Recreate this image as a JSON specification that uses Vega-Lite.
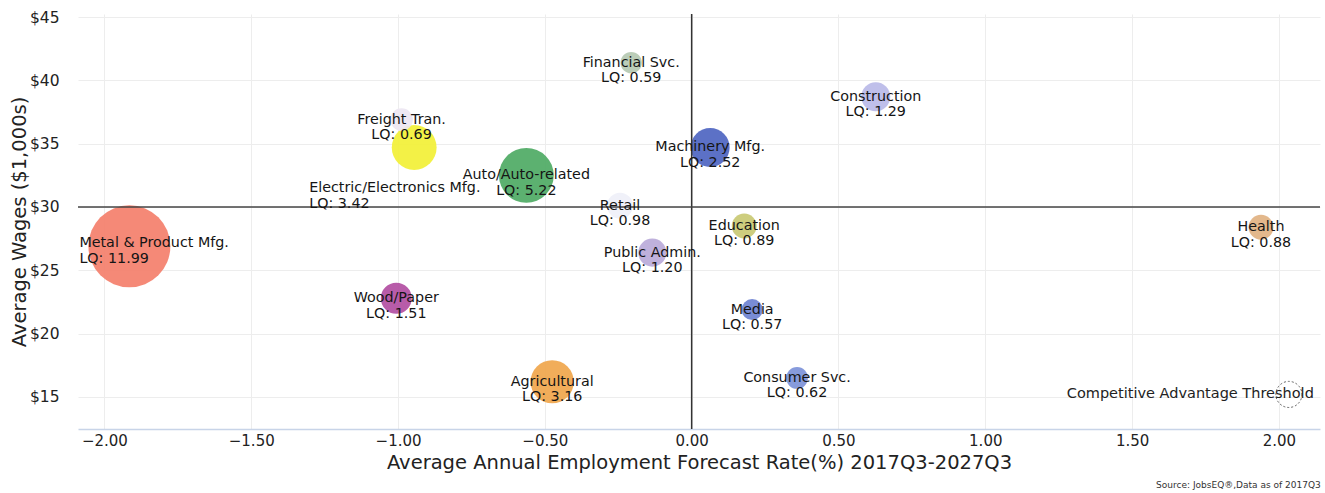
{
  "$schema": "https://vega.github.io/schema/vega-lite/v6.json",
  "autosize": "none",
  "width": 1242,
  "height": 415,
  "padding": {"left": 78, "top": 14, "right": 5, "bottom": 64},
  "config": {
    "view": {"stroke": null},
    "font": "DejaVu Sans",
    "axis": {"labelColor": "#222", "titleColor": "#222", "titleFontWeight": "normal", "labelFont": "DejaVu Sans", "titleFont": "DejaVu Sans"}
  },
  "title": {"text": "Source: JobsEQ®,Data as of 2017Q3", "orient": "bottom", "anchor": "end", "fontSize": 9, "fontWeight": "normal", "color": "#333", "offset": 9},
  "data": {
    "values": [
      {"Industry": "Metal & Product Mfg.", "Growth": -1.915, "Wages": 26.9, "LQ": 11.99},
      {"Industry": "Wood/Paper", "Growth": -1.006, "Wages": 22.8, "LQ": 1.51},
      {"Industry": "Freight Tran.", "Growth": -0.988, "Wages": 36.9, "LQ": 0.69},
      {"Industry": "Electric/Electronics Mfg.", "Growth": -0.945, "Wages": 34.7, "LQ": 3.42},
      {"Industry": "Auto/Auto-related", "Growth": -0.563, "Wages": 32.5, "LQ": 5.22},
      {"Industry": "Agricultural", "Growth": -0.475, "Wages": 16.2, "LQ": 3.16},
      {"Industry": "Retail", "Growth": -0.244, "Wages": 30.1, "LQ": 0.98},
      {"Industry": "Financial Svc.", "Growth": -0.206, "Wages": 41.4, "LQ": 0.59},
      {"Industry": "Public Admin.", "Growth": -0.134, "Wages": 26.4, "LQ": 1.2},
      {"Industry": "Machinery Mfg.", "Growth": 0.063, "Wages": 34.7, "LQ": 2.52},
      {"Industry": "Education", "Growth": 0.179, "Wages": 28.5, "LQ": 0.89},
      {"Industry": "Media", "Growth": 0.206, "Wages": 21.9, "LQ": 0.57},
      {"Industry": "Consumer Svc.", "Growth": 0.359, "Wages": 16.5, "LQ": 0.62},
      {"Industry": "Construction", "Growth": 0.627, "Wages": 38.7, "LQ": 1.29},
      {"Industry": "Health", "Growth": 1.939, "Wages": 28.4, "LQ": 0.88}
    ]
  },
  "encoding": {
    "x": {
      "field": "Growth", "type": "quantitative",
      "scale": {"domain": [-2.09, 2.14], "nice": false, "zero": false},
      "axis": {
        "title": "Average Annual Employment Forecast Rate(%) 2017Q3-2027Q3",
        "titleFontSize": 19.5, "titlePadding": 5,
        "values": [-2, -1.5, -1, -0.5, 0, 0.5, 1, 1.5, 2],
        "format": ".2f", "labelFontSize": 15, "labelPadding": 4,
        "ticks": false, "domainColor": "#c8d4e8", "domainWidth": 1.5,
        "grid": true, "gridColor": "#ededed", "labelFlush": false
      }
    },
    "y": {
      "field": "Wages", "type": "quantitative",
      "scale": {"domain": [12.47, 45.24], "nice": false, "zero": false},
      "axis": {
        "title": "Average Wages ($1,000s)",
        "titleFontSize": 19.5, "titlePadding": 0,
        "values": [15, 20, 25, 30, 35, 40, 45],
        "labelExpr": "'$' + datum.value", "labelFontSize": 15.5, "labelPadding": 19,
        "ticks": false, "domain": false,
        "grid": true, "gridColor": "#ededed"
      }
    }
  },
  "layer": [
    {
      "mark": {"type": "point", "filled": true, "opacity": 0.9, "strokeWidth": 1.5},
      "encoding": {
        "size": {"field": "LQ", "type": "quantitative", "scale": {"type": "linear", "domain": [0, 12], "range": [130, 6730]}, "legend": null},
        "color": {
          "field": "Industry", "type": "nominal", "legend": null,
          "scale": {
            "domain": ["Metal & Product Mfg.", "Wood/Paper", "Freight Tran.", "Electric/Electronics Mfg.", "Auto/Auto-related", "Agricultural", "Retail", "Financial Svc.", "Public Admin.", "Machinery Mfg.", "Education", "Media", "Consumer Svc.", "Construction", "Health"],
            "range": ["#f47c68", "#b04aa0", "#ece6f2", "#f2f032", "#4aa860", "#f0a448", "#eef0f8", "#b4c8b0", "#b8a8d8", "#4a62c0", "#c8c870", "#6a80d0", "#7a90d8", "#b8b8e8", "#e0b080"]
          }
        },
        "order": {"field": "LQ", "type": "quantitative", "sort": "descending"}
      }
    },
    {
      "data": {"values": [{"Growth": 0}]},
      "mark": {"type": "rule", "color": "#333", "strokeWidth": 1.5},
      "encoding": {"x": {"field": "Growth", "type": "quantitative"}, "y": null}
    },
    {
      "data": {"values": [{"Wages": 30}]},
      "mark": {"type": "rule", "color": "#444", "strokeWidth": 1.5},
      "encoding": {"y": {"field": "Wages", "type": "quantitative"}, "x": null}
    },
    {
      "transform": [
        {"filter": "datum.Industry !== 'Electric/Electronics Mfg.' && datum.Industry !== 'Metal & Product Mfg.'"},
        {"calculate": "datum.Industry + '\\nLQ: ' + format(datum.LQ, '.2f')", "as": "label"}
      ],
      "mark": {"type": "text", "lineBreak": "\n", "align": "center", "baseline": "middle", "fontSize": 14.3, "lineHeight": 15.5, "color": "#151515"},
      "encoding": {"text": {"field": "label", "type": "nominal"}}
    },
    {
      "transform": [
        {"filter": "datum.Industry === 'Electric/Electronics Mfg.'"},
        {"calculate": "datum.Industry + '\\nLQ: ' + format(datum.LQ, '.2f')", "as": "label"}
      ],
      "mark": {"type": "text", "lineBreak": "\n", "align": "left", "baseline": "middle", "fontSize": 14.3, "lineHeight": 15.5, "color": "#151515", "dx": -105, "dy": 41},
      "encoding": {"text": {"field": "label", "type": "nominal"}}
    },
    {
      "transform": [
        {"filter": "datum.Industry === 'Metal & Product Mfg.'"},
        {"calculate": "datum.Industry + '\\nLQ: ' + format(datum.LQ, '.2f')", "as": "label"}
      ],
      "mark": {"type": "text", "lineBreak": "\n", "align": "left", "baseline": "middle", "fontSize": 14.3, "lineHeight": 15.5, "color": "#151515", "dx": -50, "dy": -3},
      "encoding": {"text": {"field": "label", "type": "nominal"}}
    },
    {
      "data": {"values": [{"Growth": 2.034, "Wages": 15.2, "LQ": 1}]},
      "mark": {"type": "point", "filled": false, "color": "#222", "strokeDash": [2, 2], "strokeWidth": 1},
      "encoding": {
        "size": {"field": "LQ", "type": "quantitative", "scale": {"type": "linear", "domain": [0, 12], "range": [130, 6730]}, "legend": null}
      }
    },
    {
      "data": {"values": [{"Growth": 2.119, "Wages": 15.2, "note": "Competitive Advantage Threshold"}]},
      "mark": {"type": "text", "align": "right", "baseline": "middle", "fontSize": 14.5, "color": "#222"},
      "encoding": {"text": {"field": "note", "type": "nominal"}}
    }
  ]
}
